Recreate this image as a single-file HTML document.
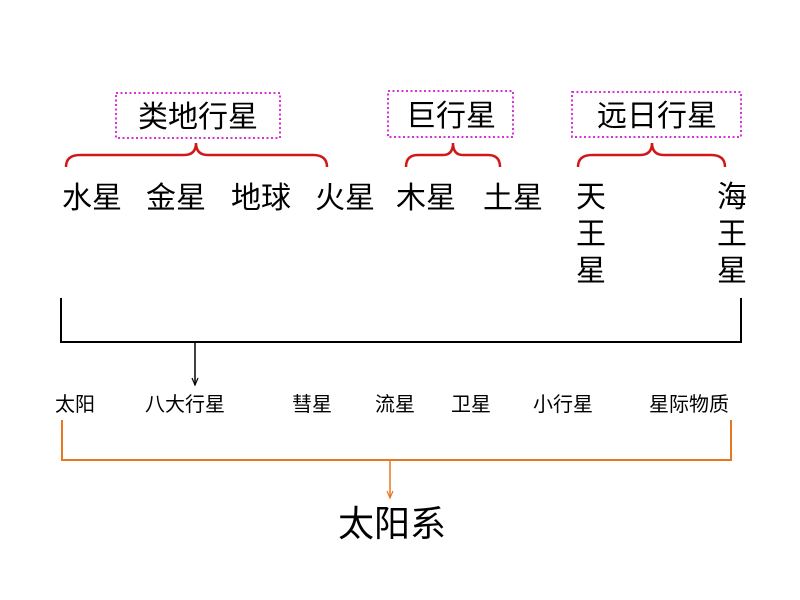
<!DOCTYPE html>
<html><head><meta charset="utf-8"><style>
html,body{margin:0;padding:0;background:#fff;}
svg{display:block;}
text{font-family:"Liberation Sans","Noto Sans CJK SC",sans-serif;fill:#000;}
</style></head><body>
<svg width="800" height="600" viewBox="0 0 800 600" xmlns="http://www.w3.org/2000/svg">
<defs>
<marker id="ab" markerWidth="10" markerHeight="10" refX="8" refY="4" orient="auto" markerUnits="userSpaceOnUse">
<path d="M1,1 L8,4 L1,7" fill="none" stroke="#000" stroke-width="1.2"/></marker>
<marker id="ao" markerWidth="10" markerHeight="10" refX="8" refY="4" orient="auto" markerUnits="userSpaceOnUse">
<path d="M1,1 L8,4 L1,7" fill="none" stroke="#e87722" stroke-width="1.2"/></marker>
</defs>
<g fill="none" stroke="#d633d6" stroke-width="2" stroke-dasharray="2,2.5">
<rect x="116" y="93" width="164" height="45"/>
<rect x="388" y="91" width="125" height="46"/>
<rect x="572" y="92" width="169" height="45"/>
</g>
<g font-size="30" text-anchor="middle">
<text x="198" y="127">类地行星</text>
<text x="451" y="126">巨行星</text>
<text x="657" y="126">远日行星</text>
</g>
<g fill="none" stroke="#d01818" stroke-width="2.5">
<path d="M66,167 Q66,155 80,155 L184,155 Q196,155 196,143 Q196,155 208,155 L313,155 Q327,155 327,167"/>
<path d="M406,167 Q406,155 418,155 L443,155 Q453,155 453,143 Q453,155 463,155 L488,155 Q500,155 500,167"/>
<path d="M578,167 Q578,155 592,155 L640,155 Q652,155 652,143 Q652,155 664,155 L711,155 Q725,155 725,167"/>
</g>
<g font-size="30">
<text x="62" y="208">水星</text>
<text x="146" y="208">金星</text>
<text x="231" y="208">地球</text>
<text x="315" y="208">火星</text>
<text x="396" y="208">木星</text>
<text x="483" y="208">土星</text>
<text x="576" y="207">天</text>
<text x="576" y="244">王</text>
<text x="576" y="281">星</text>
<text x="717" y="207">海</text>
<text x="717" y="244">王</text>
<text x="717" y="281">星</text>
</g>
<path d="M61,298 L61,342 L741,342 L741,298" fill="none" stroke="#000" stroke-width="2"/>
<line x1="195" y1="342" x2="195" y2="385" stroke="#000" stroke-width="1.5" marker-end="url(#ab)"/>
<g font-size="20">
<text x="55" y="411">太阳</text>
<text x="145" y="411">八大行星</text>
<text x="292" y="411">彗星</text>
<text x="375" y="411">流星</text>
<text x="451" y="411">卫星</text>
<text x="533" y="411">小行星</text>
<text x="649" y="411">星际物质</text>
</g>
<path d="M62,420 L62,460 L731,460 L731,420" fill="none" stroke="#e87722" stroke-width="2"/>
<line x1="390" y1="460" x2="390" y2="498" stroke="#e87722" stroke-width="1.5" marker-end="url(#ao)"/>
<text x="392" y="536" font-size="36" text-anchor="middle">太阳系</text>
</svg>
</body></html>
